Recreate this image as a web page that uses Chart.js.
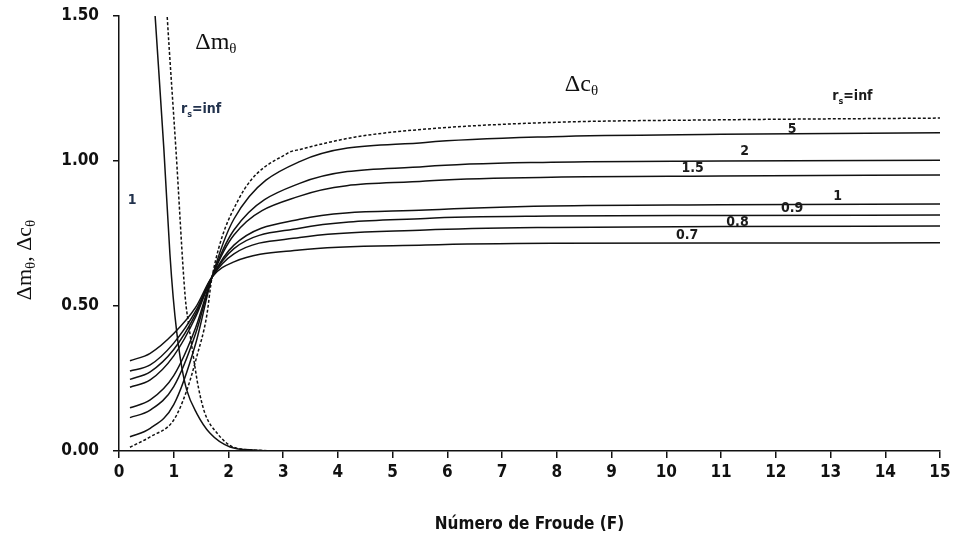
<!DOCTYPE html>
<html>
<head>
<meta charset="utf-8">
<script src="https://cdn.jsdelivr.net/npm/chart.js@4.4.1/dist/chart.umd.min.js"></script>
<style>
  html, body { margin: 0; padding: 0; background: #fff; }
  #wrap { width: 954px; height: 538px; position: relative; }
</style>
</head>
<body>
<div id="wrap"><canvas id="froudeChart"></canvas></div>
<script>
// Δc curves share one set of Froude numbers
const froudeC = [0.2, 0.57, 1.0, 1.4, 1.7, 2.1, 3.3, 5.6, 7.9, 11, 15];
const dc07  = [0.311, 0.337, 0.405, 0.495, 0.600, 0.652, 0.693, 0.710, 0.716, 0.717, 0.718];
const dc08  = [0.276, 0.297, 0.372, 0.482, 0.600, 0.680, 0.736, 0.762, 0.771, 0.774, 0.776];
const dc09  = [0.247, 0.273, 0.350, 0.472, 0.600, 0.698, 0.768, 0.802, 0.810, 0.812, 0.814];
const dc1   = [0.220, 0.245, 0.328, 0.462, 0.600, 0.710, 0.799, 0.831, 0.845, 0.849, 0.852];
const dc15  = [0.149, 0.176, 0.260, 0.425, 0.600, 0.745, 0.879, 0.931, 0.944, 0.948, 0.952];
const dc2   = [0.115, 0.141, 0.222, 0.405, 0.600, 0.762, 0.923, 0.981, 0.996, 1.000, 1.003];
const dc5   = [0.049, 0.078, 0.160, 0.370, 0.600, 0.800, 0.998, 1.064, 1.084, 1.092, 1.097];

// rs = inf (dashed)
const froudeCInf = [0.2, 0.57, 1.0, 1.24, 1.42, 1.6, 1.7, 2.18, 3.09, 3.31, 4.3, 5.6, 7.9, 11, 15];
const dcInf      = [0.013, 0.049, 0.107, 0.21, 0.325, 0.463, 0.6, 0.866, 1.028, 1.04, 1.082, 1.11, 1.133, 1.142, 1.148];

// Δm curves
const froudeM1 = [0.6, 0.66, 0.82, 0.93, 0.99, 1.055, 1.146, 1.238, 1.42, 1.66, 2.03, 2.5, 3, 15];
const dm1      = [1.68, 1.5, 1.04, 0.68, 0.53, 0.41, 0.29, 0.21, 0.13, 0.062, 0.014, 0.003, 0, 0];
const froudeMInf = [0.85, 0.88, 1.04, 1.21, 1.27, 1.36, 1.45, 1.57, 1.79, 2.08, 2.5, 3, 15];
const dmInf      = [1.6, 1.5, 1.04, 0.53, 0.44, 0.324, 0.22, 0.13, 0.062, 0.014, 0.003, 0, 0];

const xTicks = [0, 1, 2, 3, 4, 5, 6, 7, 8, 9, 10, 11, 12, 13, 14, 15];
const yTicks = [0, 0.5, 1.0, 1.5];

// curve annotations: [text, subscript, rest, F, value]
const curveLabels = [
  ['5', '', '', 12.3, 1.114],
  ['2', '', '', 11.43, 1.038],
  ['1.5', '', '', 10.48, 0.98],
  ['1', '', '', 13.13, 0.883],
  ['0.9', '', '', 12.3, 0.841],
  ['0.8', '', '', 11.3, 0.793],
  ['0.7', '', '', 10.38, 0.748],
  ['r', 's', '=inf', 13.4, 1.228],
  ['r', 's', '=inf', 1.5, 1.183],
  ['1', '', '', 0.24, 0.869]
];

function pts(xs, ys) {
  return xs.map((x, i) => ({ x: x, y: ys[i] }));
}

function curve(label, xs, ys, dashed) {
  return {
    label: label,
    data: pts(xs, ys),
    showLine: true,
    borderColor: '#111',
    borderWidth: 1.5,
    borderDash: dashed ? [3, 2] : [],
    pointRadius: 0,
    cubicInterpolationMode: 'monotone',
    fill: false
  };
}

// draws "main + subscript + rest" centred on (x, y)
function drawSubText(ctx, parts, x, y, font, subFont) {
  let w = 0;
  parts.forEach(p => { ctx.font = p.sub ? subFont : font; w += ctx.measureText(p.t).width; });
  let cx = x - w / 2;
  ctx.textBaseline = 'alphabetic';
  ctx.textAlign = 'left';
  parts.forEach(p => {
    ctx.font = p.sub ? subFont : font;
    ctx.fillText(p.t, cx, p.sub ? y + 4 : y);
    cx += ctx.measureText(p.t).width;
  });
}

const textPlugin = {
  id: 'textPlugin',
  afterDraw(chart) {
    const ctx = chart.ctx;
    const xs = chart.scales.x, ys = chart.scales.y;
    ctx.save();
    curveLabels.forEach(l => {
      const px = xs.getPixelForValue(l[3]);
      const py = ys.getPixelForValue(l[4]) + 5;
      ctx.fillStyle = (l[3] < 2) ? '#22324d' : '#1b1b1b';
      drawSubText(ctx, [{ t: l[0] }, { t: l[1], sub: true }, { t: l[2] }], px, py,
        'bold 14px "DejaVu Sans Condensed", "DejaVu Sans", sans-serif',
        'bold 9px "DejaVu Sans Condensed", "DejaVu Sans", sans-serif');
    });

    // Δm and Δc headings
    ctx.fillStyle = '#111';
    const serif = '24px "Liberation Serif", serif';
    const serifSub = '15px "Liberation Serif", serif';
    drawSubText(ctx, [{ t: 'Δm' }, { t: 'θ', sub: true }],
      xs.getPixelForValue(1.77), ys.getPixelForValue(1.385), serif, serifSub);
    drawSubText(ctx, [{ t: 'Δc' }, { t: 'θ', sub: true }],
      xs.getPixelForValue(8.45), ys.getPixelForValue(1.24), serif, serifSub);

    // rotated y-axis title
    ctx.translate(24, 260);
    ctx.rotate(-Math.PI / 2);
    drawSubText(ctx, [{ t: 'Δm' }, { t: 'θ', sub: true }, { t: ', Δc' }, { t: 'θ', sub: true }],
      0, 7, '22px "Liberation Serif", serif', '15px "Liberation Serif", serif');
    ctx.restore();
  }
};

const tickFont = { family: '"DejaVu Sans Condensed", "DejaVu Sans", sans-serif', size: 17, weight: 'bold' };

new Chart(document.getElementById('froudeChart'), {
  type: 'scatter',
  data: {
    datasets: [
      curve('0.7', froudeC, dc07, false),
      curve('0.8', froudeC, dc08, false),
      curve('0.9', froudeC, dc09, false),
      curve('1', froudeC, dc1, false),
      curve('1.5', froudeC, dc15, false),
      curve('2', froudeC, dc2, false),
      curve('5', froudeC, dc5, false),
      curve('inf', froudeCInf, dcInf, true),
      curve('dm 1', froudeM1, dm1, false),
      curve('dm inf', froudeMInf, dmInf, true)
    ]
  },
  options: {
    responsive: true,
    maintainAspectRatio: false,
    animation: false,
    layout: { padding: { left: 0, right: 14, top: 16, bottom: 0 } },
    plugins: {
      legend: { display: false },
      tooltip: { enabled: false }
    },
    scales: {
      x: {
        type: 'linear',
        min: 0,
        max: 15,
        afterBuildTicks: scale => { scale.ticks = xTicks.map(v => ({ value: v })); },
        afterFit: scale => { scale.height = 87; scale.paddingLeft = 0; scale.paddingRight = 0; },
        ticks: { color: '#111', font: tickFont, padding: 4, maxRotation: 0 },
        grid: { drawOnChartArea: false, drawTicks: true, tickLength: 7, color: '#111', lineWidth: 1.5 },
        border: { display: true, color: '#111', width: 1.5 },
        title: {
          display: true,
          text: 'Número de Froude (F)',
          color: '#111',
          font: tickFont,
          padding: { top: 12, bottom: 3 }
        }
      },
      y: {
        type: 'linear',
        min: 0,
        max: 1.5,
        afterBuildTicks: scale => { scale.ticks = yTicks.map(v => ({ value: v })); },
        afterFit: scale => { scale.width = 119; scale.paddingTop = 0; scale.paddingBottom = 0; },
        ticks: { color: '#111', font: tickFont, padding: 14, callback: v => v.toFixed(2) },
        grid: { drawOnChartArea: false, drawTicks: true, tickLength: 6, color: '#111', lineWidth: 1.5 },
        border: { display: true, color: '#111', width: 1.5 }
      }
    }
  },
  plugins: [textPlugin]
});
</script>
</body>
</html>
